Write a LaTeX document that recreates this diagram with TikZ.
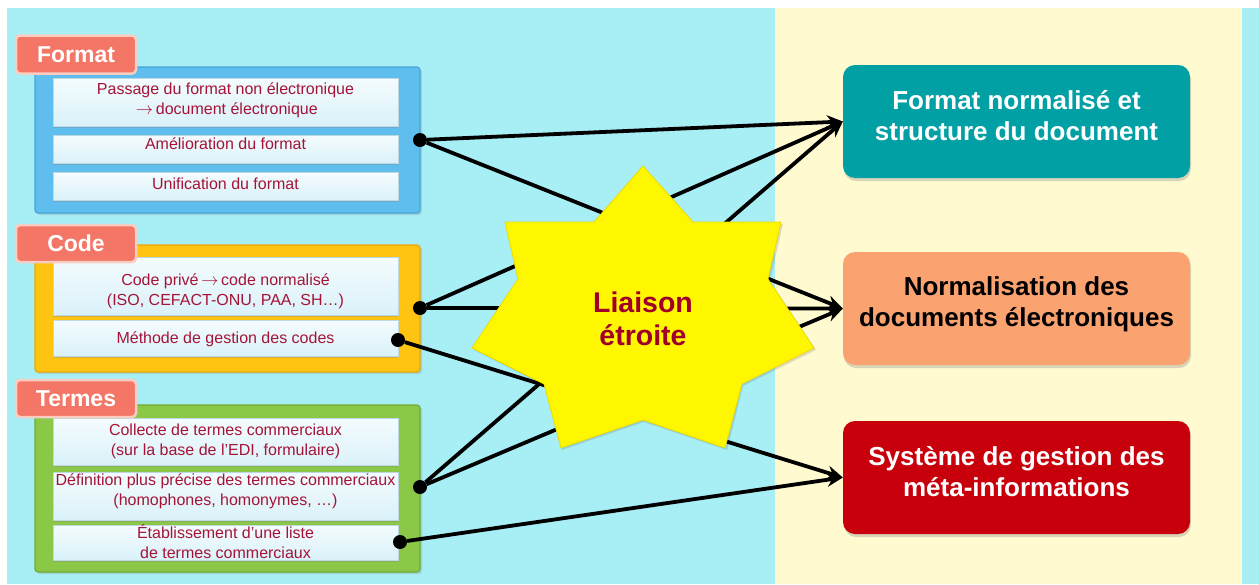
\documentclass[tikz,border=0pt]{standalone}
\usepackage{fontspec}
\setmainfont{Liberation Sans}
\usetikzlibrary{arrows.meta,shadows,shadings}
\definecolor{bgcyan}{RGB}{168,238,245}
\definecolor{bgcream}{RGB}{255,250,208}
\definecolor{blueF}{RGB}{95,190,237}
\definecolor{blueD}{RGB}{70,165,215}
\definecolor{yellowF}{RGB}{255,196,18}
\definecolor{yellowD}{RGB}{235,168,0}
\definecolor{greenF}{RGB}{140,200,72}
\definecolor{greenD}{RGB}{112,172,50}
\definecolor{coral}{RGB}{244,118,102}
\definecolor{coralB}{RGB}{250,205,195}
\definecolor{rowT}{RGB}{244,252,254}
\definecolor{rowB}{RGB}{218,241,249}
\definecolor{rowD}{RGB}{190,215,225}
\definecolor{textred}{RGB}{165,20,55}
\definecolor{tealF}{RGB}{0,160,165}
\definecolor{peachF}{RGB}{250,162,112}
\definecolor{redF}{RGB}{200,0,12}
\definecolor{starY}{RGB}{255,247,0}
\definecolor{starD}{RGB}{235,220,0}
\definecolor{starT}{RGB}{160,0,40}
\newcommand{\rarr}{\,$\rightarrow$\,}
\tikzset{
  grpframe/.style={draw, line width=1.2pt, rounded corners=3pt, inner sep=0pt,
    minimum width=385pt, drop shadow={shadow xshift=2pt,shadow yshift=-2pt,opacity=.25}},
  grptab/.style={fill=coral, draw=coralB, line width=2.5pt, rounded corners=4pt,
    minimum width=120pt, inner sep=0pt, text=white,
    font=\fontsize{23}{26}\selectfont\bfseries},
  rowbox/.style={draw=rowD, line width=.6pt, top color=rowT, bottom color=rowB,
    minimum width=345pt, inner sep=0pt,
    drop shadow={shadow xshift=0pt,shadow yshift=-2pt,opacity=.3}},
  rowtext/.style={text=textred, align=center, inner sep=0pt,
    font=\fontsize{16}{20}\selectfont},
  rbox/.style={rounded corners=12pt, minimum width=347pt, minimum height=113pt,
    inner sep=0pt, drop shadow={shadow xshift=1pt,shadow yshift=-3pt,opacity=.3}},
  rtext/.style={align=center, inner sep=0pt, font=\fontsize{26}{31}\selectfont\bfseries},
  bigdot/.style={circle, fill=black, minimum size=14pt, inner sep=0pt},
  connarrow/.style={line width=3.8pt, draw=black, -{Stealth[length=16pt,width=14pt]}},
}
\begin{document}
\begin{tikzpicture}[x=1pt,y=-1pt]
\useasboundingbox (0,0) rectangle (1259,584);
% background
\fill[white] (0,0) rectangle (1259,584);
\fill[bgcyan] (7,8) rectangle (775,584);
\fill[bgcream] (775,8) rectangle (1242,584);
\fill[bgcyan] (1242,8) rectangle (1259,584);

% ---- Format group
\node[grpframe, draw=blueD, fill=blueF, minimum height=146pt] (fframe) at (227.5,140) {};
\node[rowbox, minimum height=48pt] (f1) at (225.5,102) {};
\node[rowtext] (f1t) at (225.5,100) {Passage du format non électronique\\\rarr document électronique};
\node[rowbox, minimum height=28pt] (f2) at (225.5,149) {};
\node[rowtext] (f2t) at (225.5,143.5) {Amélioration du format};
\node[rowbox, minimum height=28pt] (f3) at (225.5,186) {};
\node[rowtext] (f3t) at (225.5,183.5) {Unification du format};
\node[grptab, minimum height=38pt] (ftab) at (76,54.5) {Format};

% ---- Code group
\node[grpframe, draw=yellowD, fill=yellowF, minimum height=127pt] (cframe) at (227.5,308.5) {};
\node[rowbox, minimum height=58pt] (c1) at (225.5,286) {};
\node[rowtext] (c1t) at (225.5,291.5) {Code privé\rarr code normalisé\\(ISO, CEFACT-ONU, PAA, SH…)};
\node[rowbox, minimum height=36pt] (c2) at (225.5,338) {};
\node[rowtext] (c2t) at (225.5,339.5) {Méthode de gestion des codes};
\node[grptab, minimum height=37pt] (ctab) at (76,243.5) {Code};

% ---- Termes group
\node[grpframe, draw=greenD, fill=greenF, minimum height=167pt] (tframe) at (227.5,488.5) {};
\node[rowbox, minimum height=47pt] (t1) at (225.5,441.5) {};
\node[rowtext] (t1t) at (225.5,441.5) {Collecte de termes commerciaux\\(sur la base de l’EDI, formulaire)};
\node[rowbox, minimum height=48pt] (t2) at (225.5,496) {};
\node[rowtext] (t2t) at (225.5,491.5) {Définition plus précise des termes commerciaux\\(homophones, homonymes, …)};
\node[rowbox, minimum height=35pt] (t3) at (225.5,542.5) {};
\node[rowtext] (t3t) at (225.5,541.5) {Établissement d’une liste\\de termes commerciaux};
\node[grptab, minimum height=37pt] (ttab) at (76,398.5) {Termes};

% ---- right boxes
\node[rbox, fill=tealF] (teal) at (1016.5,121.5) {};
\node[rtext, text=white] (tealt) at (1016.5,115.5) {Format normalisé et\\structure du document};
\node[rbox, fill=peachF] (peach) at (1016.5,308.5) {};
\node[rtext, text=black] (peacht) at (1016.5,304) {Normalisation des\\documents électroniques};
\node[rbox, fill=redF] (red) at (1016.5,477.5) {};
\node[rtext, text=white] (redt) at (1016.5,471.5) {Système de gestion des\\méta-informations};

% ---- dots
\node[bigdot] (fdot) at (420,140) {};
\node[bigdot] (cdota) at (420,308) {};
\node[bigdot] (cdotb) at (398,340) {};
\node[bigdot] (tdota) at (420,487) {};
\node[bigdot] (tdotb) at (400,542) {};

% ---- connectors
\draw[connarrow] (fdot) -- (teal.west);
\draw[connarrow] (fdot) -- (peach.west);
\draw[connarrow] (cdota) -- (teal.west);
\draw[connarrow] (cdota) -- (peach.west);
\draw[connarrow] (cdotb) -- (red.west);
\draw[connarrow] (tdota) -- (teal.west);
\draw[connarrow] (tdota) -- (peach.west);
\draw[connarrow] (tdotb) -- (red.west);

% ---- star
\fill[black, opacity=.12] (644,168) -- (694,224) -- (783,224) -- (770,281) -- (816,350)
  -- (743,386) -- (727,450) -- (644,422) -- (562,450) -- (545,386) -- (474,350)
  -- (520,281) -- (507,224) -- (596,224) -- cycle;
\filldraw[fill=starY, draw=starD, line width=.8pt]
  (643,166) -- (693,222) -- (781,222) -- (768,279) -- (814,348)
  -- (742,384) -- (725,448) -- (643,420) -- (561,448) -- (544,384) -- (472,348)
  -- (518,279) -- (505,222) -- (594,222) -- cycle;
\node[align=center, inner sep=0pt, text=starT, font=\fontsize{28.5}{33}\selectfont\bfseries]
  (liaison) at (643,318.5) {Liaison\\étroite};
\end{tikzpicture}
\end{document}
